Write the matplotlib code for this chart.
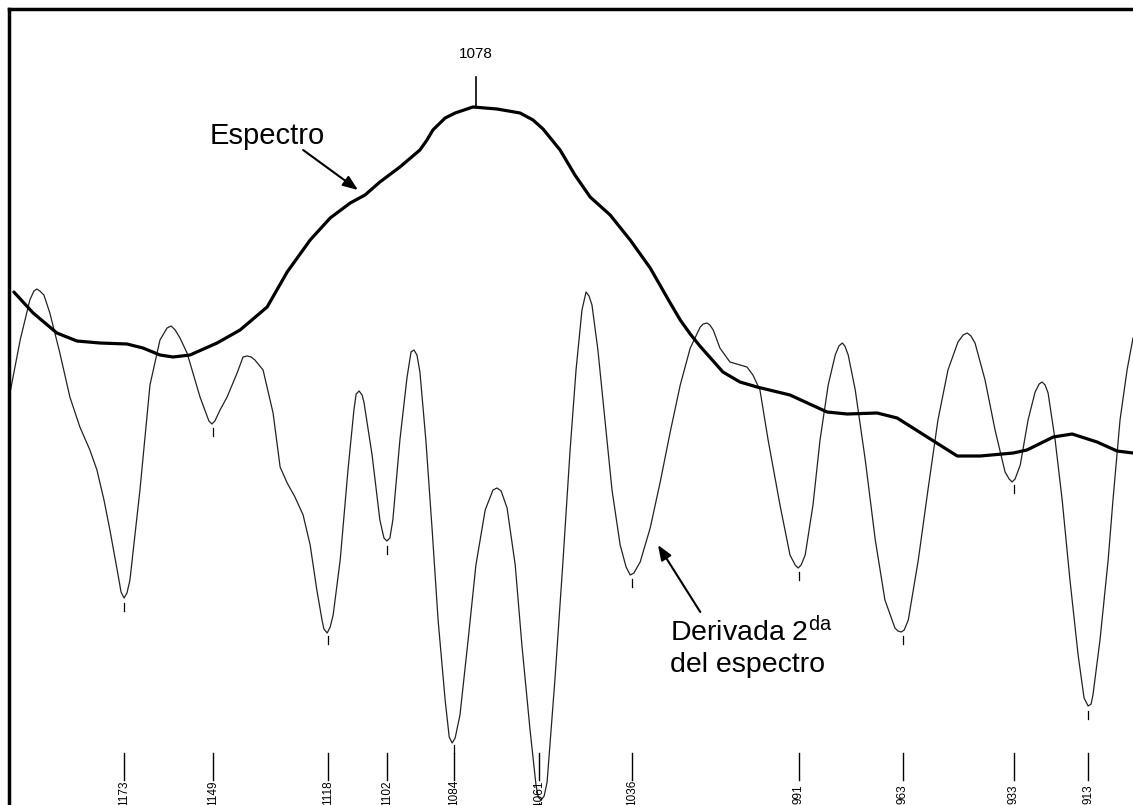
import numpy as np
import matplotlib
matplotlib.use("Agg")
import matplotlib.pyplot as plt

plt.rcParams['font.family'] = ['Liberation Sans', 'DejaVu Sans']
plt.rcParams['mathtext.fontset'] = 'custom'
plt.rcParams['mathtext.rm'] = 'Liberation Sans'
plt.rcParams['mathtext.it'] = 'Liberation Sans'

# spectrum (thick line), wavenumber cm-1 vs arbitrary intensity
spec_wn = [1202.7, 1197.5, 1191.1, 1185.7, 1179.5, 1172.2, 1167.9, 1163.3, 1159.8, 1155.2,
           1147.9, 1141.7, 1134.4, 1129.0, 1122.8, 1117.4, 1112.0, 1108.0, 1104.0, 1098.6,
           1093.2, 1091.3, 1089.7, 1086.4, 1083.7, 1078.9, 1072.4, 1066.2, 1062.7, 1060.0,
           1055.4, 1051.4, 1047.3, 1041.9, 1036.5, 1031.1, 1025.7, 1023.0, 1020.3, 1017.7,
           1011.5, 1006.9, 1002.3, 993.4, 983.4, 978.0, 969.9, 964.5, 956.4, 948.3,
           942.1, 933.2, 929.5, 922.4, 917.3, 910.6, 905.2, 900.9]
spec_val = [513, 492, 472, 464, 462, 461, 457, 450, 448, 450,
            462, 475, 498, 533, 565, 587, 602, 610, 623, 638,
            655, 665, 675, 687, 692, 698, 696, 692, 685, 676,
            655, 630, 608, 590, 565, 537, 502, 485, 471, 459,
            433, 423, 418, 410, 393, 391, 392, 387, 368, 349,
            349, 352, 355, 368, 371, 363, 354, 352]

# second derivative (thin line)
deriv_wn = [1203.7, 1201.0, 1198.4, 1197.3, 1196.5, 1195.7, 1194.6, 1193.0, 1190.3, 1187.6,
            1184.9, 1182.2, 1180.3, 1178.4, 1176.8, 1174.6, 1173.8, 1173.0, 1172.2, 1171.4,
            1168.7, 1166.0, 1163.3, 1161.4, 1160.3, 1159.2, 1157.9, 1156.0, 1152.5, 1150.1,
            1149.3, 1148.5, 1147.1, 1145.2, 1142.5, 1140.9, 1139.8, 1138.7, 1137.7, 1135.5,
            1132.8, 1130.9, 1129.0, 1126.9, 1124.7, 1122.8, 1121.0, 1119.6, 1119.1, 1118.2,
            1117.4, 1116.6, 1114.7, 1112.6, 1111.0, 1110.4, 1109.6, 1108.8, 1108.3, 1106.1,
            1104.0, 1102.9, 1102.1, 1101.3, 1100.5, 1098.6, 1096.7, 1095.6, 1094.8, 1094.0,
            1093.2, 1091.6, 1089.9, 1088.3, 1086.4, 1085.3, 1084.5, 1083.7, 1082.4, 1080.2,
            1078.1, 1075.6, 1073.5, 1072.4, 1071.3, 1069.7, 1067.5, 1065.7, 1063.5, 1061.9,
            1061.3, 1060.5, 1059.7, 1058.9, 1056.8, 1054.6, 1052.7, 1051.1, 1049.5, 1048.4,
            1047.6, 1046.8, 1045.2, 1043.3, 1041.4, 1039.2, 1037.6, 1036.5, 1035.5, 1033.8,
            1031.1, 1028.4, 1025.7, 1023.0, 1020.3, 1017.6, 1016.8, 1015.8, 1015.0, 1014.1,
            1012.3, 1009.6, 1006.9, 1005.0, 1003.4, 1001.5, 999.3, 996.1, 993.4, 992.0,
            991.2, 990.4, 989.3, 987.2, 985.3, 983.1, 981.2, 980.2, 979.3, 978.6,
            977.7, 975.8, 973.1, 970.4, 967.8, 965.1, 964.3, 963.4, 962.6, 961.5,
            958.8, 956.2, 953.5, 950.8, 948.1, 946.7, 945.6, 944.6, 943.5, 940.8,
            938.1, 935.4, 934.3, 933.5, 932.7, 931.3, 929.2, 927.3, 926.2, 925.4,
            924.6, 923.8, 921.9, 920.0, 917.9, 915.7, 914.1, 913.0, 912.2, 911.7,
            909.8, 907.6, 906.3, 904.4, 902.5, 900.9]
deriv_val = [413, 465, 505, 514, 516, 514, 510, 492, 452, 408,
             378, 355, 335, 305, 275, 230, 213, 207, 212, 225,
             315, 420, 465, 477, 479, 475, 467, 452, 408, 384,
             381, 384, 395, 408, 432, 448, 449, 448, 445, 435,
             392, 338, 322, 308, 290, 260, 215, 185, 176, 172,
             178, 190, 245, 335, 395, 411, 414, 410, 403, 350,
             285, 267, 264, 267, 285, 365, 427, 453, 455, 450,
             433, 365, 275, 185, 105, 68, 62, 67, 90, 165,
             240, 295, 315, 317, 314, 297, 240, 160, 75, 20,
             8, 5, 9, 23, 125, 245, 355, 435, 495, 513,
             509, 500, 455, 385, 315, 260, 238, 230, 232, 243,
             277, 323, 373, 420, 457, 478, 481, 482, 480, 475,
             457, 443, 440, 438, 430, 415, 365, 300, 250, 240,
             237, 240, 250, 300, 365, 420, 450, 459, 462, 459,
             450, 415, 345, 265, 205, 177, 174, 173, 175, 185,
             245, 315, 385, 435, 463, 470, 472, 469, 462, 425,
             375, 333, 326, 323, 326, 340, 385, 413, 421, 423,
             420, 412, 365, 305, 225, 150, 107, 99, 101, 110,
             165, 245, 305, 385, 435, 467]

# labelled minima of the derivative
band_labels = [1173, 1149, 1118, 1102, 1084, 1061, 1036, 991, 963, 933, 913]
peak_label = 1078

fig = plt.figure(figsize=(11.33, 8.05), dpi=100)
left = 8.5 / 1133
ax = fig.add_axes([left, 0, 1 - left, 795.5 / 805])
ax.set_xlim(1204.15, 900.9)
ax.set_ylim(0, 795.5)

ax.plot(deriv_wn, deriv_val, color='#222222', lw=0.9, solid_joinstyle='round')
ax.plot(spec_wn, spec_val, color='black', lw=2.3, solid_joinstyle='round',
        solid_capstyle='round')

# small ticks under each minimum and labels at the bottom
for wn in band_labels:
    ymin = np.interp(wn, deriv_wn[::-1], deriv_val[::-1])
    ax.plot([wn, wn], [ymin - 5, ymin - 13], color='black', lw=0.9)
    ax.plot([wn, wn], [25, 52], color='black', lw=1.0)
    top = 25 if len(str(wn)) == 4 else 20.5
    ax.text(wn, top, str(wn), rotation=90, ha='center', va='top', fontsize=8.5)

# peak marker of the spectrum
ypk = max(spec_val)
ax.plot([peak_label, peak_label], [ypk, 728], color='black', lw=1.2)
ax.text(peak_label, 747, str(peak_label), ha='center', va='baseline', fontsize=11)

ax.text(1149.8, 661, 'Espectro', fontsize=21, ha='left', va='baseline')
ax.annotate('', xy=(1109.9, 615), xytext=(1124.7, 655),
            arrowprops=dict(arrowstyle='-|>,head_length=0.9,head_width=0.35',
                            color='black', lw=1.5, shrinkA=0, shrinkB=0))

ax.text(1025.7, 164, r'Derivada 2$^{\mathrm{da}}$', fontsize=20.5, ha='left', va='baseline')
ax.text(1025.7, 133, 'del espectro', fontsize=20.5, ha='left', va='baseline')
ax.annotate('', xy=(1029.0, 260), xytext=(1017.6, 193),
            arrowprops=dict(arrowstyle='-|>,head_length=0.9,head_width=0.35',
                            color='black', lw=1.5, shrinkA=0, shrinkB=0))

for s in ['right', 'bottom']:
    ax.spines[s].set_visible(False)
for s in ['left', 'top']:
    ax.spines[s].set_linewidth(2.5)
ax.set_xticks([])
ax.set_yticks([])

fig.savefig('out.png', dpi=100)
